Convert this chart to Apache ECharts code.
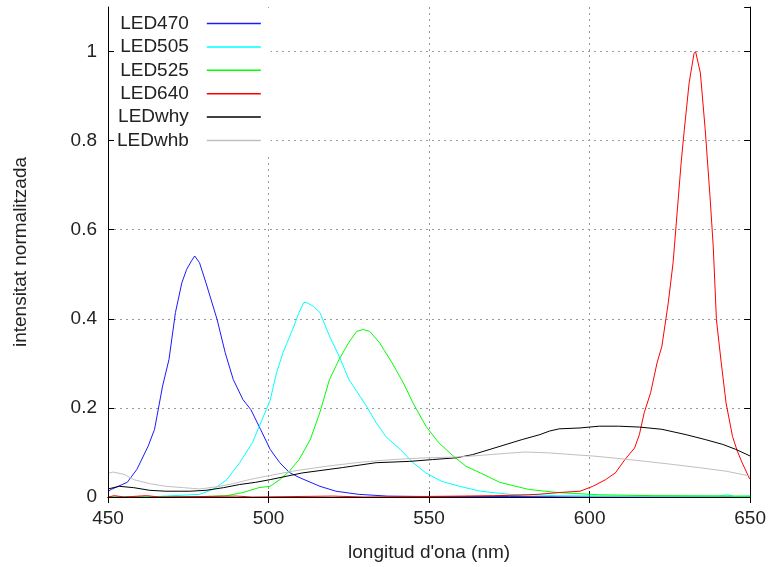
<!DOCTYPE html>
<html>
<head>
<meta charset="utf-8">
<script src="https://cdn.jsdelivr.net/npm/echarts@6/dist/echarts.min.js"></script>
<style>
  html, body { margin: 0; padding: 0; background: #fff; }
  #chart { width: 769px; height: 567px; }
</style>
</head>
<body>
<div id="chart"></div>
<script>
// Normalised emission spectra of the LEDs: [wavelength (nm), intensity]
const led470 = [[450,0.012],[451,0.017],[456,0.033],[459,0.062],[462.5,0.114],[464.5,0.152],[467,0.249],[469,0.309],[471,0.414],[473,0.481],[474.5,0.511],[476,0.530],[477,0.541],[478.5,0.526],[480.5,0.481],[484,0.398],[486.5,0.324],[489,0.264],[492,0.219],[494.5,0.196],[497.5,0.152],[500.5,0.107],[503.5,0.077],[506.5,0.055],[509.5,0.044],[516,0.024],[521,0.013],[528,0.006],[537,0.002],[550,0.001],[575,0.001],[600,0.0],[650,0.0]];
const led505 = [[450,0.0],[465,0.001],[478.5,0.006],[483,0.018],[487,0.039],[491,0.077],[495,0.122],[498,0.174],[500.5,0.217],[502.5,0.279],[504.5,0.324],[507.5,0.376],[509.5,0.414],[511,0.437],[512,0.436],[514,0.428],[516,0.414],[519,0.361],[522,0.316],[525,0.264],[528.5,0.226],[530.5,0.204],[533.5,0.167],[536.5,0.136],[541,0.107],[545,0.077],[549,0.054],[554,0.035],[559.5,0.024],[566,0.013],[575,0.006],[590,0.003],[610,0.002],[640,0.002],[643,0.005],[645,0.001],[650,0.002]];
const led525 = [[450,0],[480,0.001],[487,0.003],[492,0.010],[497,0.021],[500.5,0.024],[503.5,0.039],[506.5,0.058],[509.5,0.084],[513,0.129],[516,0.190],[519,0.264],[522,0.309],[525,0.347],[527.5,0.372],[529.5,0.376],[531.5,0.372],[534.5,0.347],[538.5,0.301],[542,0.256],[545,0.211],[549,0.159],[553,0.122],[557.5,0.092],[561.5,0.069],[566,0.054],[572,0.033],[581,0.017],[590,0.010],[603,0.005],[620,0.003],[650,0.002]];
const led640 = [[450,0.0],[452,0.003],[455,0.0],[462,0.003],[466,0.0],[490,0.002],[495,0.0],[520,0.002],[530,0.0],[560,0.002],[570,0.003],[578,0.004],[584,0.006],[590.5,0.010],[597,0.013],[601,0.024],[605,0.039],[608,0.054],[611,0.084],[614,0.110],[615.5,0.140],[617,0.189],[619,0.234],[621,0.301],[622.5,0.338],[624.5,0.436],[626,0.526],[627.5,0.660],[628.5,0.750],[629.5,0.825],[631,0.930],[632.5,0.995],[633,1.0],[634.5,0.952],[636,0.825],[637.5,0.675],[638.5,0.563],[639.5,0.398],[641,0.301],[642.5,0.211],[644.5,0.136],[646,0.103],[647.5,0.077],[649.7,0.043],[650,0.040]];
const ledWhy = [[450,0.018],[453.5,0.024],[458,0.021],[463,0.015],[468,0.013],[475.5,0.013],[480.5,0.015],[486,0.021],[491,0.028],[496,0.033],[500.5,0.039],[510.5,0.054],[523,0.066],[533.5,0.077],[544,0.080],[551,0.084],[558.5,0.088],[563.5,0.095],[569,0.107],[574,0.118],[579,0.129],[584.5,0.140],[587.5,0.148],[590.5,0.153],[597,0.155],[603,0.159],[609,0.159],[615.5,0.157],[622.5,0.152],[630,0.140],[636,0.129],[641.5,0.118],[645.5,0.107],[650,0.092]];
const ledWhb = [[450,0.053],[451.5,0.056],[455,0.051],[458,0.039],[463,0.030],[468,0.024],[473.5,0.021],[478.5,0.018],[484,0.023],[489,0.030],[494,0.039],[499.5,0.047],[507.5,0.058],[518,0.069],[528.5,0.078],[538.5,0.084],[549,0.088],[559.5,0.090],[567,0.094],[574,0.098],[580,0.101],[587.5,0.099],[595,0.095],[601,0.092],[607,0.088],[617.5,0.080],[626,0.073],[634,0.066],[642.5,0.058],[650,0.047]];

const seriesNames = ['LED470', 'LED505', 'LED525', 'LED640', 'LEDwhy', 'LEDwhb'];
const seriesColors = ['#1a1aff', '#00ffff', '#00ff00', '#ff0000', '#000000', '#c0c0c0'];
const seriesData = [led470, led505, led525, led640, ledWhy, ledWhb];

const xTitle = "longitud d'ona (nm)";
const yTitle = 'intensitat normalitzada';

const FONT = "'Liberation Sans', Arial, sans-serif";
const TEXT = '#222';
const gridLine = { show: true, showMinLine: false, showMaxLine: false,
  lineStyle: { color: '#9a9a9a', type: [2, 4], width: 1 } };

const chart = echarts.init(document.getElementById('chart'), null, { renderer: 'canvas' });

chart.setOption({
  animation: false,
  backgroundColor: '#fff',
  color: seriesColors,
  textStyle: { fontFamily: FONT, color: TEXT },
  grid: { left: 108, right: 18, top: 7, bottom: 69, containLabel: false },
  legend: {
    orient: 'vertical',
    left: 109,
    top: 8,
    align: 'right',
    padding: [6, 9, 5, 8],
    backgroundColor: '#fff',
    itemWidth: 54,
    itemHeight: 14,
    itemGap: 4.4,
    itemStyle: { opacity: 0 },
    data: seriesNames.map((name, i) => ({
      name: name,
      lineStyle: { color: seriesColors[i], width: 1.5, opacity: 1 }
    })),
    formatter: '{t|{name}}',
    textStyle: {
      fontFamily: FONT, color: TEXT, fontSize: 19,
      rich: { t: { fontFamily: FONT, color: TEXT, fontSize: 19, lineHeight: 20, padding: [0, 13, 0, 0] } }
    }
  },
  xAxis: [
    {
      type: 'value', position: 'bottom', min: 450, max: 650, interval: 50,
      name: xTitle, nameLocation: 'middle', nameGap: 46,
      nameTextStyle: { fontFamily: FONT, color: TEXT, fontSize: 19 },
      axisLine: { show: true, lineStyle: { color: '#000', width: 1 } },
      axisTick: { show: true, inside: true, length: 6, lineStyle: { color: '#000' } },
      axisLabel: { fontFamily: FONT, color: TEXT, fontSize: 19, margin: 12 },
      splitLine: gridLine
    },
    {
      type: 'value', position: 'top', min: 450, max: 650, interval: 50, z: 5,
      axisLine: { show: true, lineStyle: { color: '#000', width: 1 } },
      axisTick: { show: true, inside: true, length: 6, lineStyle: { color: '#000' } },
      axisLabel: { show: false },
      splitLine: { show: false }
    }
  ],
  yAxis: [
    {
      type: 'value', position: 'left', min: 0, max: 1.1, interval: 0.2, z: 5,
      name: yTitle, nameLocation: 'middle', nameGap: 78,
      nameTextStyle: { fontFamily: FONT, color: TEXT, fontSize: 19 },
      axisLine: { show: true, lineStyle: { color: '#000', width: 1 } },
      axisTick: { show: true, inside: true, length: 6, lineStyle: { color: '#000' } },
      axisLabel: { fontFamily: FONT, color: TEXT, fontSize: 19, margin: 11, showMaxLabel: false,
        formatter: v => (Math.abs(v - 1.1) < 1e-9 ? '' : String(+v.toFixed(1))) },
      splitLine: { show: false }
    },
    {
      type: 'value', position: 'right', min: 0, max: 1.1, interval: 0.2,
      axisLine: { show: true, lineStyle: { color: '#000', width: 1 } },
      axisTick: { show: true, inside: true, length: 6, lineStyle: { color: '#000' } },
      axisLabel: { show: false },
      splitLine: gridLine
    }
  ],
  series: seriesNames.map((name, i) => ({
    name: name,
    type: 'line',
    xAxisIndex: 0,
    yAxisIndex: 0,
    data: seriesData[i],
    symbol: 'none',
    showSymbol: false,
    smooth: false,
    color: seriesColors[i],
    lineStyle: { color: seriesColors[i], width: 1 },
    itemStyle: { color: seriesColors[i] },
    emphasis: { disabled: true }
  }))
});
</script>
</body>
</html>
